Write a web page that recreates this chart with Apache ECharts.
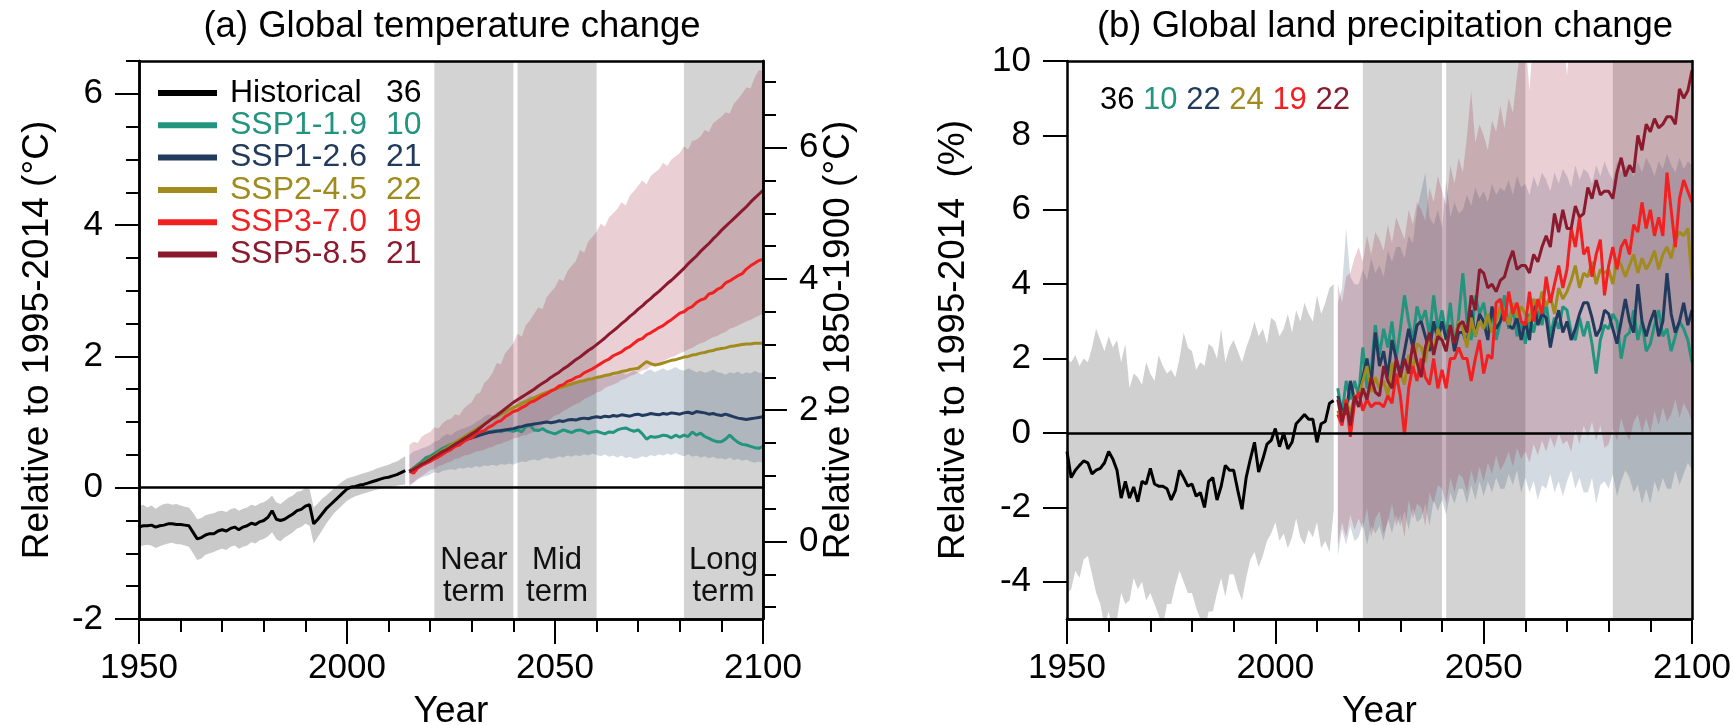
<!DOCTYPE html>
<html>
<head>
<meta charset="utf-8">
<title>Global temperature and land precipitation change</title>
<script src="https://cdn.jsdelivr.net/npm/echarts@6/dist/echarts.min.js"></script>
<style>
  html, body { margin: 0; padding: 0; background: #fff; }
  #chart { width: 1733px; height: 725px; }
</style>
</head>
<body>
<div id="chart"></div>
<script>
// ---------- labels, counts, colours ----------
const scenarioNames = ['Historical', 'SSP1-1.9', 'SSP1-2.6', 'SSP2-4.5', 'SSP3-7.0', 'SSP5-8.5'];
const modelCountsTemp = [36, 10, 21, 22, 19, 21];
const modelCountsPrecip = [36, 10, 22, 24, 19, 22];
const scenarioColors = ['#000000', '#23957f', '#223a5e', '#a08b1c', '#f22020', '#8b1a2e'];
const termLabels = ['Near\nterm', 'Mid\nterm', 'Long\nterm'];
const termPeriods = [[2021, 2040], [2041, 2060], [2081, 2100]];
const tempTicksLeft = [-2, 0, 2, 4, 6];
const tempTicksRightMajor = [0, 2, 4, 6];
const tempTicksRightMinor = [-1, -0.5, 0, 0.5, 1, 1.5, 2, 2.5, 3, 3.5, 4, 4.5, 5, 5.5, 6, 6.5, 7];
const precipTicks = [-4, -2, 0, 2, 4, 6, 8, 10];
const preindustrialOffset = 0.82; // 1995-2014 relative to 1850-1900 (°C)

const histStart = 1950;   // annual values 1950..2014
const scenStart = 2015;   // annual values 2015..2100

// ---------- (a) global temperature change, °C relative to 1995-2014 ----------
const tempHistorical = [
  -0.60, -0.58, -0.58, -0.57, -0.60, -0.58, -0.57, -0.55, -0.55, -0.56,
  -0.56, -0.57, -0.58, -0.68, -0.78, -0.76, -0.72, -0.70, -0.70, -0.66,
  -0.64, -0.66, -0.62, -0.60, -0.64, -0.60, -0.58, -0.54, -0.56, -0.52,
  -0.50, -0.45, -0.35, -0.48, -0.50, -0.48, -0.44, -0.40, -0.35, -0.33,
  -0.28, -0.26, -0.55, -0.48, -0.40, -0.32, -0.26, -0.20, -0.14, -0.08,
  -0.02, 0.01, 0.02, 0.04, 0.05, 0.07, 0.09, 0.11, 0.13, 0.15,
  0.16, 0.18, 0.20, 0.23, 0.26
];
const tempHistHigh = [
  -0.28, -0.26, -0.30, -0.27, -0.32, -0.28, -0.25, -0.24, -0.26, -0.25,
  -0.27, -0.29, -0.30, -0.38, -0.48, -0.46, -0.42, -0.40, -0.39, -0.36,
  -0.35, -0.37, -0.33, -0.31, -0.35, -0.32, -0.30, -0.26, -0.28, -0.24,
  -0.22, -0.18, -0.12, -0.22, -0.25, -0.20, -0.15, -0.12, -0.06, -0.05,
  0.00, -0.02, -0.30, -0.24, -0.17, -0.12, -0.06, 0.00, 0.05, 0.10,
  0.14, 0.16, 0.18, 0.20, 0.22, 0.24, 0.26, 0.29, 0.31, 0.33,
  0.35, 0.38, 0.40, 0.44, 0.48
];
const tempHistLow = [
  -0.90, -0.88, -0.87, -0.88, -0.92, -0.89, -0.87, -0.85, -0.84, -0.86,
  -0.86, -0.88, -0.90, -1.00, -1.10, -1.08, -1.02, -1.00, -0.98, -0.95,
  -0.93, -0.95, -0.90, -0.88, -0.93, -0.90, -0.88, -0.83, -0.85, -0.80,
  -0.78, -0.74, -0.68, -0.78, -0.82, -0.76, -0.72, -0.68, -0.62, -0.60,
  -0.55, -0.58, -0.85, -0.75, -0.65, -0.55, -0.46, -0.38, -0.32, -0.26,
  -0.20, -0.16, -0.13, -0.11, -0.09, -0.07, -0.05, -0.03, -0.02, 0.00,
  0.01, 0.02, 0.03, 0.04, 0.05
];
const tempSsp119 = [
  0.25, 0.30, 0.35, 0.40, 0.46, 0.48, 0.52, 0.56, 0.60, 0.63,
  0.66, 0.68, 0.71, 0.74, 0.77, 0.78, 0.80, 0.82, 0.84, 0.85,
  0.86, 0.87, 0.85, 0.88, 0.87, 0.86, 0.88, 0.85, 0.93, 0.95,
  0.88, 0.87, 0.90, 0.86, 0.84, 0.82, 0.85, 0.88, 0.86, 0.84,
  0.87, 0.88, 0.86, 0.83, 0.85, 0.86, 0.84, 0.82, 0.85, 0.84,
  0.88, 0.90, 0.91, 0.88, 0.86, 0.88, 0.82, 0.74, 0.78, 0.77,
  0.78, 0.80, 0.79, 0.76, 0.80, 0.77, 0.80, 0.78, 0.85, 0.80,
  0.83, 0.78, 0.75, 0.72, 0.70, 0.70, 0.74, 0.80, 0.74, 0.69,
  0.66, 0.65, 0.63, 0.61, 0.60, 0.63
];
const tempSsp126 = [
  0.25, 0.29, 0.33, 0.37, 0.41, 0.45, 0.49, 0.53, 0.56, 0.60,
  0.63, 0.66, 0.69, 0.72, 0.74, 0.76, 0.78, 0.80, 0.82, 0.84,
  0.85, 0.86, 0.87, 0.88, 0.89, 0.90, 0.92, 0.93, 0.95, 0.96,
  0.97, 0.98, 0.99, 1.00, 0.99, 1.00, 1.02, 1.01, 1.03, 1.04,
  1.03, 1.05, 1.06, 1.05, 1.07, 1.08, 1.07, 1.09, 1.08, 1.10,
  1.09, 1.11, 1.10, 1.09, 1.11, 1.12, 1.10, 1.11, 1.13, 1.12,
  1.11, 1.13, 1.12, 1.14, 1.13, 1.12, 1.14, 1.15, 1.13, 1.16,
  1.15, 1.14, 1.12, 1.13, 1.11, 1.10, 1.12, 1.10, 1.08, 1.06,
  1.05, 1.04, 1.05, 1.06, 1.07, 1.08
];
const tempSsp245 = [
  0.25, 0.29, 0.33, 0.37, 0.41, 0.45, 0.49, 0.53, 0.57, 0.61,
  0.65, 0.69, 0.73, 0.77, 0.81, 0.85, 0.89, 0.93, 0.97, 1.01,
  1.05, 1.08, 1.12, 1.15, 1.19, 1.22, 1.25, 1.28, 1.31, 1.34,
  1.37, 1.40, 1.43, 1.45, 1.48, 1.50, 1.52, 1.54, 1.56, 1.58,
  1.60, 1.62, 1.63, 1.65, 1.66, 1.68, 1.69, 1.71, 1.72, 1.74,
  1.75, 1.77, 1.78, 1.80, 1.81, 1.82, 1.87, 1.92, 1.89, 1.87,
  1.88, 1.90, 1.92, 1.94, 1.95, 1.97, 1.99, 2.00, 2.02, 2.03,
  2.05, 2.06, 2.08, 2.09, 2.11, 2.12, 2.13, 2.15, 2.16, 2.17,
  2.18, 2.19, 2.19, 2.20, 2.20, 2.20
];
const tempSsp370 = [
  0.25, 0.22, 0.30, 0.34, 0.37, 0.40, 0.44, 0.47, 0.51, 0.55,
  0.58, 0.63, 0.65, 0.70, 0.74, 0.76, 0.82, 0.85, 0.87, 0.92,
  0.95, 1.00, 1.02, 1.08, 1.12, 1.16, 1.18, 1.22, 1.25, 1.30,
  1.32, 1.36, 1.40, 1.43, 1.47, 1.50, 1.55, 1.57, 1.62, 1.64,
  1.68, 1.70, 1.75, 1.78, 1.81, 1.85, 1.89, 1.93, 1.96, 2.01,
  2.04, 2.07, 2.12, 2.15, 2.20, 2.25, 2.27, 2.33, 2.36, 2.40,
  2.44, 2.47, 2.52, 2.56, 2.61, 2.66, 2.68, 2.73, 2.76, 2.82,
  2.86, 2.88, 2.95, 2.97, 3.02, 3.05, 3.12, 3.15, 3.19, 3.23,
  3.26, 3.33, 3.38, 3.42, 3.46, 3.48
];
const tempSsp585 = [
  0.25, 0.28, 0.32, 0.36, 0.39, 0.43, 0.47, 0.51, 0.55, 0.58,
  0.62, 0.66, 0.70, 0.74, 0.78, 0.82, 0.86, 0.91, 0.96, 1.01,
  1.06, 1.10, 1.15, 1.20, 1.25, 1.30, 1.34, 1.38, 1.42, 1.46,
  1.50, 1.55, 1.59, 1.63, 1.68, 1.72, 1.76, 1.81, 1.85, 1.90,
  1.95, 1.99, 2.04, 2.09, 2.13, 2.18, 2.23, 2.28, 2.34, 2.39,
  2.44, 2.50, 2.55, 2.61, 2.66, 2.72, 2.77, 2.83, 2.88, 2.94,
  2.99, 3.05, 3.11, 3.16, 3.22, 3.28, 3.34, 3.41, 3.47, 3.53,
  3.60, 3.66, 3.72, 3.79, 3.85, 3.92, 3.98, 4.04, 4.10, 4.16,
  4.22, 4.28, 4.35, 4.41, 4.47, 4.53
];
const tempSsp126Low = [
  0.02, 0.08, 0.12, 0.16, 0.18, 0.20, 0.24, 0.22, 0.26, 0.27,
  0.28, 0.27, 0.30, 0.29, 0.31, 0.30, 0.33, 0.31, 0.34, 0.33,
  0.35, 0.33, 0.36, 0.35, 0.37, 0.35, 0.38, 0.40, 0.39, 0.42,
  0.43, 0.41, 0.44, 0.46, 0.44, 0.45, 0.48, 0.46, 0.49, 0.47,
  0.50, 0.48, 0.51, 0.49, 0.52, 0.50, 0.48, 0.51, 0.47, 0.49,
  0.46, 0.49, 0.45, 0.47, 0.44, 0.45, 0.48, 0.46, 0.50, 0.48,
  0.51, 0.49, 0.52, 0.50, 0.53, 0.50, 0.48, 0.51, 0.47, 0.49,
  0.46, 0.48, 0.45, 0.47, 0.44, 0.45, 0.43, 0.46, 0.42, 0.44,
  0.41, 0.43, 0.40, 0.38, 0.40, 0.38
];
const tempSsp126High = [
  0.50, 0.55, 0.57, 0.60, 0.62, 0.65, 0.70, 0.72, 0.78, 0.82,
  0.80, 0.85, 0.88, 0.90, 0.93, 0.95, 1.00, 1.03, 1.08, 1.12,
  1.10, 1.15, 1.18, 1.22, 1.20, 1.25, 1.30, 1.32, 1.35, 1.40,
  1.38, 1.42, 1.45, 1.48, 1.46, 1.50, 1.55, 1.52, 1.58, 1.60,
  1.62, 1.60, 1.65, 1.68, 1.66, 1.70, 1.72, 1.68, 1.74, 1.70,
  1.73, 1.76, 1.72, 1.75, 1.78, 1.75, 1.72, 1.78, 1.80, 1.76,
  1.79, 1.82, 1.78, 1.81, 1.84, 1.80, 1.78, 1.82, 1.79, 1.76,
  1.78, 1.75, 1.77, 1.80, 1.76, 1.75, 1.72, 1.76, 1.74, 1.77,
  1.73, 1.76, 1.74, 1.78, 1.75, 1.75
];
const tempSsp585Low = [
  0.05, 0.08, 0.14, 0.18, 0.22, 0.27, 0.28, 0.33, 0.35, 0.38,
  0.40, 0.44, 0.45, 0.49, 0.50, 0.52, 0.55, 0.56, 0.58, 0.61,
  0.62, 0.66, 0.67, 0.70, 0.72, 0.75, 0.76, 0.79, 0.80, 0.83,
  0.85, 0.90, 0.96, 1.00, 1.05, 1.10, 1.12, 1.17, 1.20, 1.24,
  1.27, 1.30, 1.35, 1.38, 1.41, 1.45, 1.47, 1.52, 1.55, 1.57,
  1.60, 1.64, 1.66, 1.70, 1.72, 1.75, 1.79, 1.80, 1.85, 1.87,
  1.90, 1.93, 1.96, 1.99, 2.01, 2.05, 2.07, 2.11, 2.13, 2.17,
  2.20, 2.22, 2.26, 2.29, 2.31, 2.35, 2.37, 2.42, 2.44, 2.47,
  2.50, 2.53, 2.56, 2.59, 2.62, 2.65
];
const tempSsp585High = [
  0.65, 0.70, 0.68, 0.78, 0.82, 0.85, 0.92, 0.90, 0.98, 1.03,
  1.05, 1.12, 1.10, 1.20, 1.26, 1.30, 1.42, 1.45, 1.60, 1.66,
  1.75, 1.90, 1.88, 2.05, 2.12, 2.20, 2.35, 2.30, 2.48, 2.55,
  2.65, 2.75, 2.72, 2.90, 2.98, 3.05, 3.18, 3.15, 3.30, 3.38,
  3.45, 3.62, 3.58, 3.75, 3.82, 3.90, 4.02, 3.98, 4.12, 4.18,
  4.25, 4.35, 4.30, 4.45, 4.52, 4.60, 4.68, 4.62, 4.75, 4.80,
  4.85, 4.95, 4.90, 5.00, 5.05, 5.10, 5.20, 5.15, 5.28, 5.30,
  5.35, 5.45, 5.42, 5.55, 5.60, 5.65, 5.72, 5.70, 5.85, 5.92,
  6.00, 6.10, 6.08, 6.25, 6.36, 6.35
];

// ---------- (b) global land precipitation change, % relative to 1995-2014 ----------
const precipHistorical = [
  -0.5, -1.2, -1.0, -0.87, -0.75, -0.8, -1.1, -1.0, -0.95, -0.8,
  -0.5, -0.7, -1.0, -1.75, -1.3, -1.75, -1.45, -1.85, -1.3, -1.37,
  -0.95, -1.37, -1.43, -1.43, -1.5, -1.8, -1.55, -1.0, -1.2, -1.43,
  -1.37, -1.7, -1.6, -2.0, -1.3, -1.2, -1.8, -1.43, -0.87, -1.0,
  -1.0, -1.55, -2.05, -1.2, -0.7, -0.25, -1.05, -0.7, -0.3, -0.2,
  0.12, -0.37, 0.0, -0.43, -0.25, 0.25, 0.37, 0.5, 0.37, 0.37,
  -0.25, 0.25, 0.31, 0.8, 0.87
];
const precipHistHigh = [
  2.0, 1.9, 2.1, 1.8, 2.0, 1.9, 2.3, 2.8, 2.5, 2.2,
  2.6, 2.3, 2.5, 1.9, 2.4, 1.2, 1.6, 1.5, 1.3, 1.9,
  1.6, 1.4, 2.1, 1.8, 1.6, 1.7, 1.5, 2.0, 2.7, 2.3,
  2.2, 1.7, 1.9, 1.8, 2.4, 2.3, 2.0, 2.8, 1.9, 2.3,
  2.5, 2.2, 1.9, 2.3, 2.6, 3.0, 2.6, 2.8, 2.4, 3.1,
  3.0, 2.6, 2.8, 3.2, 2.7, 3.3, 3.0, 3.5, 3.2, 3.0,
  3.7, 3.2, 3.5, 3.9, 4.0
];
const precipHistLow = [
  -4.3, -4.2, -3.7, -3.9, -3.4, -3.3, -3.8, -4.3, -4.6, -5.2,
  -4.8, -5.3, -5.0, -4.3, -4.6, -4.5, -3.9, -4.2, -4.0, -4.5,
  -4.3, -4.6, -4.9, -5.2, -4.6, -4.6, -4.1, -3.7, -4.0, -4.3,
  -4.3, -4.7, -5.0, -5.3, -4.8, -4.8, -4.3, -3.9, -4.4, -3.8,
  -3.8, -4.2, -4.5, -3.9, -3.4, -3.2, -3.6, -3.3, -2.9, -2.7,
  -2.4, -2.9, -2.7, -3.1, -2.8, -2.3, -2.8, -3.0, -2.6, -2.8,
  -2.4, -3.1, -2.9, -3.2, -2.1
];
const precipSsp119 = [
  1.2, 0.5, 1.4, 0.9, 1.4, 1.0, 2.3, 1.2, 1.7, 2.9,
  2.1, 2.8, 2.3, 3.0, 2.0, 2.8, 3.7, 3.0, 2.5, 3.4,
  3.0, 3.3, 2.6, 3.7, 2.8, 3.3, 2.6, 3.5, 2.3, 3.1,
  4.3, 3.0, 2.5, 3.7, 3.2, 3.5, 2.8, 3.3, 2.5, 3.0,
  3.7, 2.8, 3.4, 2.6, 3.0, 2.4, 3.2, 2.7, 3.3, 2.9,
  3.5, 2.6, 3.1, 2.8, 3.4, 3.3, 2.7, 2.5, 3.1, 2.6,
  3.0, 2.4, 1.6, 2.5, 2.9, 2.8, 3.2, 3.0, 2.0, 2.6,
  2.7, 3.3, 2.5, 3.0, 2.2, 2.4, 2.9, 3.3, 2.6, 2.8,
  2.2, 2.6, 3.0, 2.8, 2.5, 1.9
];
const precipSsp126 = [
  1.0, 0.6, 0.5, 1.4, 0.9, 1.0, 1.5, 2.0, 1.3, 2.7,
  1.8, 2.2, 1.5, 2.5, 2.0, 1.6, 2.2, 2.8, 2.3, 2.9,
  3.0, 2.6, 2.2, 3.0, 2.5, 3.0, 2.5, 2.9, 2.2, 2.7,
  2.7, 2.4, 3.3, 2.6, 3.2, 3.0, 2.5, 3.4, 2.8, 3.0,
  3.3, 2.9, 2.8, 3.1, 2.5, 3.0, 2.5, 3.6, 2.9, 3.2,
  3.1, 2.3, 2.9, 3.3, 2.7, 3.0, 2.5, 2.8, 3.2, 3.5,
  3.5, 3.1, 2.6, 2.8, 3.3, 3.2, 2.8, 2.4, 3.0, 3.6,
  3.0, 2.7, 4.0, 3.0, 2.6, 3.0, 3.3, 2.6, 3.0, 4.3,
  3.2, 2.7, 3.0, 3.5, 2.9, 3.3
];
const precipSsp245 = [
  0.6, 0.3, 0.9, 0.5, 1.0, 1.0, 1.4, 1.8, 1.1, 1.5,
  1.2, 1.4, 1.0, 1.9, 1.3, 1.6, 1.3, 2.1, 1.7, 2.4,
  2.3, 1.9, 2.6, 2.2, 2.8, 2.5, 2.2, 2.9, 2.4, 3.0,
  2.8, 2.3, 3.1, 2.6, 3.0, 2.8, 3.2, 2.7, 3.0, 3.4,
  3.3, 2.9, 3.5, 3.1, 3.4, 3.2, 3.0, 3.6, 3.3, 3.8,
  3.4, 3.7, 3.2, 3.9, 3.6, 3.8, 4.1, 4.5, 3.9, 4.3,
  4.2, 4.6, 4.0, 4.4, 4.3, 4.4, 4.0, 4.7, 4.5, 4.2,
  4.5, 4.8, 4.3, 4.7, 4.4, 4.6, 4.9, 4.4, 4.8, 5.0,
  4.7, 5.2, 5.4, 5.3, 5.5, 4.1
];
const precipSsp370 = [
  0.5, 0.2, 0.9, -0.1, 0.8, 1.1, 0.6, 0.9, 0.7, 0.8,
  0.8, 0.7, 1.0, 0.8, 1.6, 1.0, -0.05, 1.2, 1.8, 1.4,
  2.0, 1.5, 1.3, 2.0, 1.2, 1.7, 1.2, 2.0, 2.0, 2.3,
  2.0, 2.0, 1.4, 2.0, 2.5, 1.6, 2.1, 2.0, 3.5, 3.6,
  3.0, 3.8, 3.2, 3.5, 3.0, 2.9, 3.8, 3.0, 3.6, 3.2,
  4.2, 3.5, 4.0, 4.5, 3.9, 4.4, 5.5, 5.0, 5.8, 4.8,
  5.0, 4.2, 4.8, 5.2, 3.7, 4.5, 5.0, 4.4, 5.0, 5.2,
  4.8, 5.6, 5.4, 6.2, 5.5, 6.0, 5.3, 5.8, 5.3, 7.0,
  6.0, 5.0, 6.3, 6.8, 6.5, 6.2
];
const precipSsp585 = [
  0.9, 0.3, 0.8, 0.2, 1.0, 0.7, 1.2, 0.9, 1.5, 1.1,
  1.0, 1.8, 1.4, 1.2, 2.0, 1.5, 2.0, 1.6, 2.4, 1.9,
  1.5, 2.3, 2.7, 2.1, 2.6, 2.5, 2.2, 2.9, 2.4, 2.9,
  3.0, 2.7, 3.7, 3.3, 4.4, 4.3, 3.9, 4.0, 3.8, 4.1,
  4.2, 4.6, 4.9, 4.4, 4.5, 4.5, 4.3, 4.8, 4.6, 5.0,
  5.3, 5.0, 5.9, 5.4, 6.0, 5.5, 5.5, 6.1, 5.8, 5.9,
  6.6, 6.3, 6.8, 6.4, 6.5, 6.5, 6.3, 7.0, 7.4, 6.9,
  7.2, 7.0, 8.0, 7.6, 8.3, 8.1, 8.45, 8.2, 8.3, 8.5,
  8.5, 8.3, 9.25, 9.0, 9.2, 9.75
];
const precipSsp126Low = [
  -3.3, -2.6, -3.0, -2.5, -2.9, -2.8, -2.4, -3.0, -2.5, -2.7,
  -2.5, -2.9, -2.3, -2.7, -2.2, -2.5, -2.1, -2.6, -2.0, -2.4,
  -2.3, -1.9, -2.5, -1.8, -2.1, -1.8, -2.2, -1.6, -1.9, -1.5,
  -1.5, -1.9, -1.4, -1.8, -1.3, -1.7, -1.3, -1.6, -1.2, -1.5,
  -1.5, -1.1, -1.4, -1.0, -1.6, -1.2, -1.6, -1.3, -1.8, -1.4,
  -1.5, -1.1, -1.6, -1.3, -1.7, -1.3, -1.0, -1.5, -1.2, -1.6,
  -1.6, -1.2, -1.9, -1.4, -1.3, -1.5, -1.1, -1.7, -1.3, -1.0,
  -1.2, -1.6, -1.4, -1.9, -1.5, -1.9, -1.3, -1.6, -1.2, -1.5,
  -1.5, -1.0, -1.4, -1.1, -0.8, -1.0
];
const precipSsp126High = [
  3.5, 3.9, 5.5, 4.2, 4.0, 4.0, 4.4, 4.1, 4.7, 4.3,
  4.5, 4.2, 4.9, 4.6, 5.0, 5.0, 4.7, 5.3, 5.1, 6.0,
  6.5, 7.0, 5.8, 5.6, 6.0, 5.5, 6.8, 5.8, 6.2, 5.9,
  6.0, 6.4, 6.1, 6.6, 6.3, 6.5, 6.2, 6.7, 6.4, 6.6,
  6.5, 6.8, 6.4, 6.9, 6.6, 6.7, 6.4, 6.9, 6.6, 7.0,
  6.8, 6.5, 7.0, 6.7, 7.1, 6.9, 6.6, 7.2, 6.8, 7.1,
  7.0, 6.7, 7.2, 6.9, 7.3, 7.0, 6.8, 7.3, 7.0, 7.2,
  7.1, 6.9, 7.3, 7.0, 7.4, 7.2, 6.9, 7.3, 7.1, 7.5,
  7.2, 7.0, 7.4, 7.1, 7.3, 7.2
];
const precipSsp585Low = [
  -3.0, -2.4, -2.8, -2.2, -2.6, -2.3, -2.6, -2.0, -2.8, -2.3,
  -2.1, -2.7, -2.4, -1.9, -2.5, -2.2, -2.8, -1.8, -2.3, -1.9,
  -2.0, -2.5, -1.6, -1.9, -1.4, -1.5, -1.9, -1.2, -1.6, -1.1,
  -1.2, -1.6, -1.0, -1.4, -0.9, -1.3, -0.8, -1.1, -0.6, -1.0,
  -0.8, -0.5, -0.9, -0.4, -0.7, -0.5, -0.8, -0.3, -0.6, -0.2,
  -0.5, -0.1, -0.4, 0.0, -0.3, -0.2, -0.5, 0.1, -0.3, 0.2,
  -0.1, 0.3, -0.2, 0.2, -0.4, -0.3, 0.1, -0.2, 0.4, 0.0,
  -0.2, 0.3, 0.5, 0.0, 0.4, 0.0, 0.6, 0.2, 0.7, 0.3,
  0.5, 0.9, 0.4, 0.8, 0.6, 0.3
];
const precipSsp585High = [
  4.0, 3.5, 4.2, 4.3, 4.7, 5.0, 4.6, 5.3, 4.8, 5.4,
  5.2, 4.9, 5.6, 5.1, 5.8, 5.5, 5.2, 6.0, 5.6, 6.2,
  6.0, 5.7, 6.6, 6.2, 6.9, 6.5, 6.1, 7.2, 6.7, 7.4,
  7.0, 8.0, 9.2, 7.8, 8.3, 8.0, 7.6, 8.4, 8.1, 8.8,
  8.2, 9.0, 8.6, 9.6, 10.5, 10.6, 9.2, 10.8, 11.2, 10.4,
  11.0, 10.3, 11.2, 10.5, 11.0, 9.6, 10.9, 11.5, 11.0, 11.6,
  11.4, 11.8, 11.2, 11.9, 11.6, 12.0, 11.7, 12.2, 11.8, 12.3,
  12.1, 12.5, 12.0, 12.6, 12.3, 12.7, 12.4, 12.9, 12.5, 13.0,
  12.8, 13.1, 12.7, 13.2, 13.0, 13.3
];

// ---------- helpers ----------
const fontFamily = "'Liberation Sans', Arial, Helvetica, sans-serif";

function checkLength(arr, n, label) {
  if (arr.length !== n) throw new Error(label + ' has ' + arr.length + ' values, expected ' + n);
}
[[tempHistorical, 65, 'tempHistorical'], [tempHistHigh, 65, 'tempHistHigh'], [tempHistLow, 65, 'tempHistLow'],
 [tempSsp119, 86, 'tempSsp119'], [tempSsp126, 86, 'tempSsp126'], [tempSsp245, 86, 'tempSsp245'],
 [tempSsp370, 86, 'tempSsp370'], [tempSsp585, 86, 'tempSsp585'],
 [tempSsp126Low, 86, 'tempSsp126Low'], [tempSsp126High, 86, 'tempSsp126High'],
 [tempSsp585Low, 86, 'tempSsp585Low'], [tempSsp585High, 86, 'tempSsp585High'],
 [precipHistorical, 65, 'precipHistorical'], [precipHistHigh, 65, 'precipHistHigh'], [precipHistLow, 65, 'precipHistLow'],
 [precipSsp119, 86, 'precipSsp119'], [precipSsp126, 86, 'precipSsp126'], [precipSsp245, 86, 'precipSsp245'],
 [precipSsp370, 86, 'precipSsp370'], [precipSsp585, 86, 'precipSsp585'],
 [precipSsp126Low, 86, 'precipSsp126Low'], [precipSsp126High, 86, 'precipSsp126High'],
 [precipSsp585Low, 86, 'precipSsp585Low'], [precipSsp585High, 86, 'precipSsp585High']
].forEach(a => checkLength(a[0], a[1], a[2]));

function yearPairs(start, values) {
  return values.map((v, i) => [start + i, v]);
}

// A shaded range between two annual bounds, drawn as one polygon through the axes' scales
function rangeSeries(id, xi, yi, start, low, high, color) {
  return {
    type: 'custom', name: id, xAxisIndex: xi, yAxisIndex: yi, silent: true, z: 2,
    data: low.map((v, i) => [start + i, v, high[i]]),
    encode: { x: 0, y: [1, 2] },
    renderItem: (params, api) => {
      if (params.dataIndex !== 0) return null;
      const upper = [], lower = [];
      for (let i = 0; i < low.length; i++) {
        upper.push(api.coord([start + i, high[i]]));
        lower.push(api.coord([start + i, low[i]]));
      }
      const cs = params.coordSys;
      return {
        type: 'polygon',
        shape: { points: upper.concat(lower.reverse()) },
        style: { fill: color },
        clipPath: { type: 'rect', shape: { x: cs.x, y: cs.y, width: cs.width, height: cs.height } }
      };
    }
  };
}

function lineSeries(nameIdx, xi, yi, start, values) {
  return {
    type: 'line', name: scenarioNames[nameIdx], xAxisIndex: xi, yAxisIndex: yi,
    data: yearPairs(start, values), symbol: 'none', showSymbol: false, z: 4,
    lineStyle: { color: scenarioColors[nameIdx], width: 3 },
    itemStyle: { color: scenarioColors[nameIdx] },
    emphasis: { disabled: true }
  };
}

// Assessment periods and the zero line, held by a data-less series per panel
function periodSeries(xi, yi, withLabels) {
  return {
    type: 'line', name: 'periods', xAxisIndex: xi, yAxisIndex: yi, data: [], z: 1, silent: true,
    markArea: {
      silent: true,
      itemStyle: { color: '#d3d3d3' },
      label: {
        show: withLabels, position: 'insideBottom', distance: 11,
        fontSize: 31, lineHeight: 32, color: '#111', fontFamily: fontFamily
      },
      data: termPeriods.map((p, i) => [{ xAxis: p[0], name: withLabels ? termLabels[i] : '' }, { xAxis: p[1] }])
    },
    markLine: {
      silent: true, symbol: ['none', 'none'],
      lineStyle: { color: '#000', width: 2.5, type: 'solid' },
      label: { show: false },
      data: [{ yAxis: 0 }]
    }
  };
}

const axisLineStyle = { show: true, onZero: false, lineStyle: { color: '#000', width: 2.5 } };
const tickLine = { color: '#000', width: 2 };
const labelText = { fontSize: 35, color: '#000', fontFamily: fontFamily };
const nameText = { fontSize: 37, color: '#000', fontFamily: fontFamily };

function yearAxes(gridIndex) {
  const base = { type: 'value', gridIndex: gridIndex, min: 1950, max: 2100, splitLine: { show: false }, z: 10 };
  return [
    Object.assign({}, base, {
      position: 'bottom', interval: 10, axisLine: axisLineStyle,
      axisTick: { show: true, length: 13, lineStyle: tickLine }, axisLabel: { show: false }
    }),
    Object.assign({}, base, {
      position: 'bottom', interval: 50, axisLine: axisLineStyle,
      axisTick: { show: true, length: 25, lineStyle: tickLine },
      axisLabel: Object.assign({ show: true, margin: 32, formatter: v => String(v) }, labelText),
      name: 'Year', nameLocation: 'middle', nameGap: 74, nameMoveOverlap: false, nameTextStyle: nameText
    }),
    Object.assign({}, base, {
      position: 'top', axisLine: axisLineStyle, axisTick: { show: false }, axisLabel: { show: false }
    })
  ];
}

const tempMin = -2, tempMax = 6.5;

const yAxes = [
  // (a) left, minor ticks every 0.5
  { type: 'value', gridIndex: 0, position: 'left', min: tempMin, max: tempMax, interval: 0.5,
    axisLine: axisLineStyle, axisTick: { show: true, length: 13, lineStyle: tickLine },
    axisLabel: { show: false }, splitLine: { show: false }, z: 10 },
  // (a) left, labelled ticks
  { type: 'value', gridIndex: 0, position: 'left', min: tempMin, max: tempMax,
    axisLine: axisLineStyle,
    axisTick: { show: true, length: 24, lineStyle: tickLine, customValues: tempTicksLeft },
    axisLabel: Object.assign({ show: true, margin: 36, customValues: tempTicksLeft }, labelText),
    splitLine: { show: false }, z: 10,
    name: 'Relative to 1995-2014 (°C)', nameLocation: 'middle', nameRotate: 90, nameGap: 83,
    nameMoveOverlap: false, nameTextStyle: nameText },
  // (a) right, relative to 1850-1900, minor ticks
  { type: 'value', gridIndex: 0, position: 'right',
    min: tempMin + preindustrialOffset, max: tempMax + preindustrialOffset,
    axisLine: axisLineStyle,
    axisTick: { show: true, length: 13, lineStyle: tickLine, customValues: tempTicksRightMinor },
    axisLabel: { show: false }, splitLine: { show: false }, z: 10 },
  // (a) right, labelled ticks
  { type: 'value', gridIndex: 0, position: 'right',
    min: tempMin + preindustrialOffset, max: tempMax + preindustrialOffset,
    axisLine: axisLineStyle,
    axisTick: { show: true, length: 24, lineStyle: tickLine, customValues: tempTicksRightMajor },
    axisLabel: Object.assign({ show: true, margin: 36, customValues: tempTicksRightMajor }, labelText),
    splitLine: { show: false }, z: 10,
    name: 'Relative to 1850-1900 (°C)', nameLocation: 'middle', nameRotate: 90, nameGap: 57,
    nameMoveOverlap: false, nameTextStyle: nameText },
  // (b) left
  { type: 'value', gridIndex: 1, position: 'left', min: -5, max: 10,
    axisLine: axisLineStyle,
    axisTick: { show: true, length: 24, lineStyle: tickLine, customValues: precipTicks },
    axisLabel: Object.assign({ show: true, margin: 36, customValues: precipTicks }, labelText),
    splitLine: { show: false }, z: 10,
    name: 'Relative to 1995-2014  (%)', nameLocation: 'middle', nameRotate: 90, nameGap: 95,
    nameMoveOverlap: false, nameTextStyle: nameText },
  // (b) right frame edge
  { type: 'value', gridIndex: 1, position: 'right', min: -5, max: 10,
    axisLine: axisLineStyle, axisTick: { show: false }, axisLabel: { show: false },
    splitLine: { show: false }, z: 10 }
];

const xAxes = yearAxes(0).concat(yearAxes(1));

// axis indices: (a) x=0, y=0 ; (b) x=3, y=4
const series = [].concat(
  [periodSeries(0, 0, true)],
  [
    rangeSeries('temp-hist', 0, 0, histStart, tempHistLow, tempHistHigh, '#c9c9c9'),
    rangeSeries('temp-ssp126', 0, 0, scenStart, tempSsp126Low, tempSsp126High, 'rgba(40,70,110,0.2)'),
    rangeSeries('temp-ssp585', 0, 0, scenStart, tempSsp585Low, tempSsp585High, 'rgba(160,35,60,0.22)')
  ],
  [
    lineSeries(0, 0, 0, histStart, tempHistorical),
    lineSeries(1, 0, 0, scenStart, tempSsp119),
    lineSeries(2, 0, 0, scenStart, tempSsp126),
    lineSeries(3, 0, 0, scenStart, tempSsp245),
    lineSeries(4, 0, 0, scenStart, tempSsp370),
    lineSeries(5, 0, 0, scenStart, tempSsp585)
  ],
  [periodSeries(3, 4, false)],
  [
    rangeSeries('precip-hist', 3, 4, histStart, precipHistLow, precipHistHigh, '#d0d0d0'),
    rangeSeries('precip-ssp126', 3, 4, scenStart, precipSsp126Low, precipSsp126High, 'rgba(40,70,110,0.2)'),
    rangeSeries('precip-ssp585', 3, 4, scenStart, precipSsp585Low, precipSsp585High, 'rgba(160,35,60,0.22)')
  ],
  [
    lineSeries(0, 3, 4, histStart, precipHistorical),
    lineSeries(1, 3, 4, scenStart, precipSsp119),
    lineSeries(2, 3, 4, scenStart, precipSsp126),
    lineSeries(3, 3, 4, scenStart, precipSsp245),
    lineSeries(4, 3, 4, scenStart, precipSsp370),
    lineSeries(5, 3, 4, scenStart, precipSsp585)
  ]
);

// rich styles: one colour per scenario
const legendRich = {};
const countRich = {};
scenarioNames.forEach((n, i) => {
  legendRich['n' + i] = { color: scenarioColors[i], fontSize: 32, lineHeight: 32, fontFamily: fontFamily, width: 156, padding: [0, 0, 0, 8] };
  legendRich['c' + i] = { color: scenarioColors[i], fontSize: 32, lineHeight: 32, fontFamily: fontFamily };
  countRich['k' + i] = { color: scenarioColors[i], fontSize: 31, fontFamily: fontFamily };
});
const precipCountText = modelCountsPrecip.map((c, i) => '{k' + i + '|' + c + '}').join('{k0| }');

const option = {
  animation: false,
  backgroundColor: '#ffffff',
  textStyle: { fontFamily: fontFamily, color: '#000' },
  title: [
    { text: '(a) Global temperature change', left: 447, top: 3, textAlign: 'center',
      textStyle: { fontSize: 36.5, fontWeight: 'normal', color: '#000', fontFamily: fontFamily } },
    { text: '(b) Global land precipitation change', left: 1380, top: 3, textAlign: 'center',
      textStyle: { fontSize: 36.5, fontWeight: 'normal', color: '#000', fontFamily: fontFamily } },
    { text: precipCountText, left: 1095, top: 80,
      textStyle: { fontSize: 31, fontWeight: 'normal', fontFamily: fontFamily, rich: countRich } }
  ],
  legend: {
    left: 158, top: 77, orient: 'vertical', padding: 0, itemGap: 0.3,
    itemWidth: 59, itemHeight: 6, icon: 'rect', selectedMode: false,
    data: scenarioNames.slice(),
    formatter: name => {
      const i = scenarioNames.indexOf(name);
      return '{n' + i + '|' + name + '}{c' + i + '|' + modelCountsTemp[i] + '}';
    },
    textStyle: { fontSize: 32, lineHeight: 32, fontFamily: fontFamily, rich: legendRich }
  },
  grid: [
    { left: 139, top: 61, width: 624, height: 558, containLabel: false, outerBoundsMode: 'none' },
    { left: 1067, top: 61, width: 625, height: 558, containLabel: false, outerBoundsMode: 'none' }
  ],
  xAxis: xAxes,
  yAxis: yAxes,
  series: series
};

const chart = echarts.init(document.getElementById('chart'), null, { renderer: 'canvas', width: 1733, height: 725 });
chart.setOption(option);
</script>
</body>
</html>
